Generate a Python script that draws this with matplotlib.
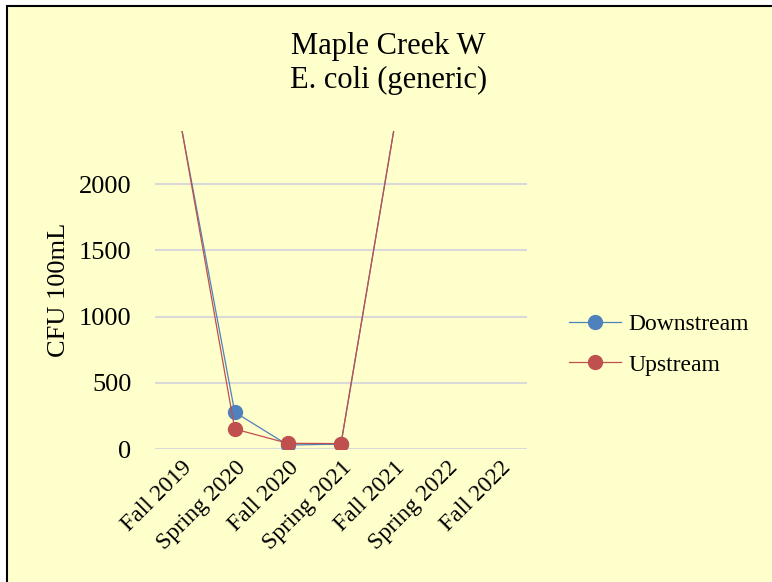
import numpy as np
import matplotlib.pyplot as plt
from matplotlib.lines import Line2D

seasons = ["Fall 2019", "Spring 2020", "Fall 2020", "Spring 2021",
           "Fall 2021", "Spring 2022", "Fall 2022"]
downstream = [2419.6, 278, 30, 37, 2419.6, np.nan, np.nan]
upstream = [2419.6, 151, 43, 41, 2419.6, np.nan, np.nan]

plt.rcParams['font.family'] = ['Liberation Serif', 'DejaVu Serif']

bg = '#FFFFCC'
ymax = 2400
W, H = 772, 582
fig = plt.figure(figsize=(W / 100, H / 100), dpi=100, facecolor='white')

# chart area: cropped screenshot, border only shows on top and left
fig.add_artist(plt.Rectangle((7 / W, -0.05), 1.1, (H - 6) / H + 0.05,
                             transform=fig.transFigure, facecolor=bg,
                             edgecolor='black', lw=1.5, zorder=0))

ax = fig.add_axes([0.2008, 0.2285, 0.4818, 0.5464])
ax.patch.set_alpha(0)

x = np.arange(len(seasons))
colors = {'Downstream': '#4F81BD', 'Upstream': '#C0504D'}
for name, vals in [('Downstream', downstream), ('Upstream', upstream)]:
    # excel doesn't draw markers for points above the axis max
    shown = [i for i, v in enumerate(vals) if v <= ymax]
    ax.plot(x, vals, color=colors[name], lw=0.9, marker='o', ms=10,
            markevery=shown, label=name)

ax.set_xlim(-0.5, len(seasons) - 0.5)
ax.set_ylim(0, ymax)
ax.set_yticks([0, 500, 1000, 1500, 2000])
ax.set_xticks(x)
ax.set_xticklabels(seasons, rotation=45, ha='right', rotation_mode='anchor')
ax.tick_params(axis='both', length=0)
ax.tick_params(axis='y', pad=17, labelsize=19)
ax.tick_params(axis='x', pad=6, labelsize=17)
ax.grid(axis='y', color='#D9D9D9', lw=1.5)
ax.set_axisbelow(True)
for s in ax.spines.values():
    s.set_visible(False)

ax.set_ylabel("CFU 100mL", fontsize=19, labelpad=6)
fig.text(0.503, 0.891, "Maple Creek W\nE. coli (generic)", ha='center',
         va='center', fontsize=22, linespacing=1.22)

handles = [Line2D([], [], color=colors[n], lw=0.9, marker='o', ms=10)
           for n in colors]
fig.legend(handles, list(colors), loc='center left',
           bbox_to_anchor=(0.71, 0.408), frameon=False,
           fontsize=17, handlelength=2.2, labelspacing=0.8, handletextpad=0.3)

plt.savefig("out.png", dpi=100, facecolor='white')
